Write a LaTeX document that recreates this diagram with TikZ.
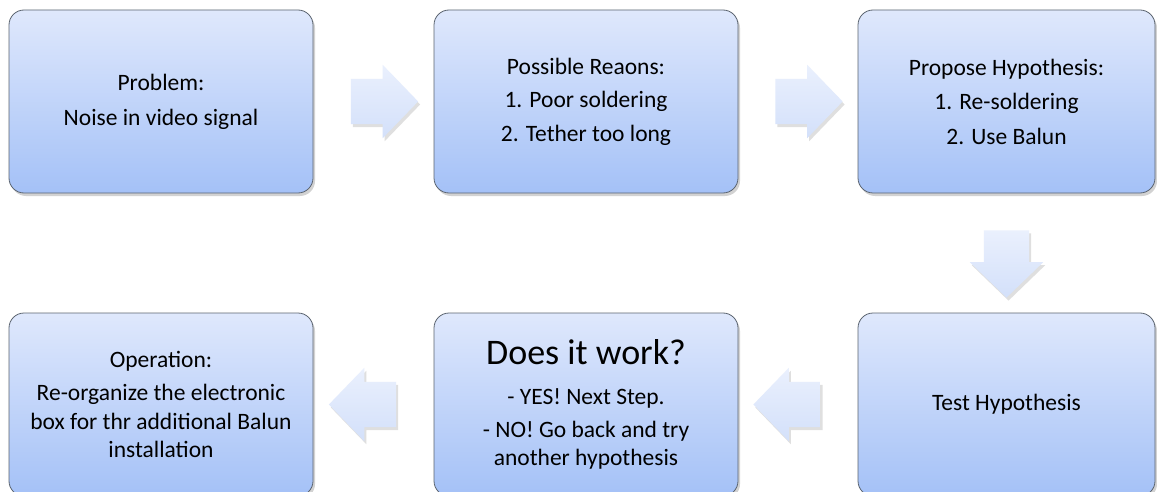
\documentclass[tikz,border=0pt]{standalone}
\usepackage{fontspec}
\setmainfont{Carlito}
\usetikzlibrary{shapes.arrows,shadows,calc}
\definecolor{boxtop}{HTML}{DFE8FC}
\definecolor{boxbot}{HTML}{A4C1F7}
\definecolor{boxline}{HTML}{5B6470}
\definecolor{arrtop}{HTML}{EAF0FD}
\definecolor{arrbot}{HTML}{D3E0FA}
\begin{document}
\begin{tikzpicture}[x=1pt,y=-1pt,
  stagebox/.style={draw=boxline, line width=0.8pt, rounded corners=15pt,
    top color=boxtop, bottom color=boxbot, minimum height=183pt,
    align=center, inner sep=0pt, font=\fontsize{23.5}{28.5}\selectfont,
    drop shadow={shadow xshift=2pt, shadow yshift=-3pt, opacity=0.35}},
  widebox/.style={stagebox, minimum width=304pt},
  narrowbox/.style={stagebox, minimum width=297pt},
  blockarrow/.style={single arrow, draw=none, minimum height=65pt,
    minimum width=0pt, single arrow head extend=14pt,
    single arrow tip angle=92, inner sep=22.5pt,
    top color=arrtop, bottom color=arrbot,
    drop shadow={shadow xshift=2pt, shadow yshift=-3pt, opacity=0.25}}]
\useasboundingbox (0,0) rectangle (1157,492);
\fill[white] (0,0) rectangle (1157,492);

\node[widebox] (prob) at (161,101.5) {Problem:\\[6.5pt]Noise in video signal};
\node[widebox] (reas) at (586,101.5) {Possible Reaons:\\[5pt]1. Poor soldering\\[5pt]2. Tether too long};
\node[narrowbox] (hyp) at (1006.5,101.5) {Propose Hypothesis:\\[6pt]1. Re-soldering\\[6pt]2. Use Balun};
\node[narrowbox] (test) at (1006.5,404.5) {Test Hypothesis};
\node[widebox] (work) at (586,404.5) {{\fontsize{36}{44}\selectfont Does it work?}\\[11pt]- YES! Next Step.\\[4.5pt]- NO! Go back and try\\another hypothesis};
\node[widebox] (oper) at (161,404.5) {Operation:\\[5pt]Re-organize the electronic\\box for thr additional Balun\\installation};

\node[blockarrow] (a1) at ($(prob.east)!0.5!(reas.west)$) {};
\node[blockarrow] (a2) at ($(reas.east)!0.5!(hyp.west)$) {};
\node[blockarrow, shape border rotate=270] (a3) at ($(hyp.south)!0.5!(test.north)$) {};
\node[blockarrow, shape border rotate=180] (a4) at ($(test.west)!0.5!(work.east)$) {};
\node[blockarrow, shape border rotate=180] (a5) at ($(work.west)!0.5!(oper.east)$) {};
\end{tikzpicture}
\end{document}
